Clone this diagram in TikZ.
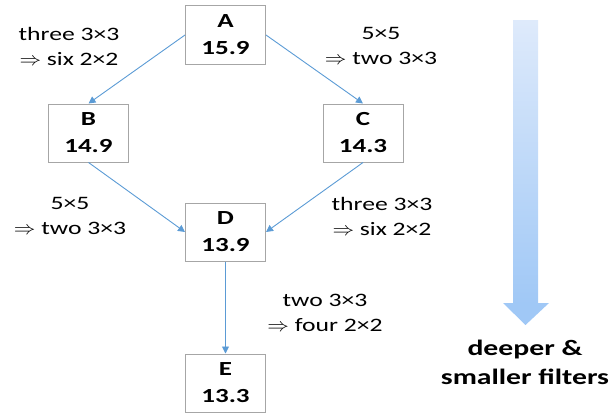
\documentclass[tikz,border=0pt]{standalone}
\usepackage{fontspec}
\setmainfont{Carlito}[FakeStretch=1.35]
\usetikzlibrary{arrows.meta}

\definecolor{edgeblue}{RGB}{91,155,213}
\definecolor{arrlight}{RGB}{222,234,251}
\definecolor{arrdark}{RGB}{160,200,246}

\newcommand{\impl}{\scalebox{1.25}[1.1]{$\Rightarrow$}}

\begin{document}
\begin{tikzpicture}[x=1pt, y=-1pt,
  every node/.style = {align=center, font=\fontsize{19}{25}\selectfont},
  netbox/.style = {draw=black!35, line width=1pt, minimum width=80pt,
    minimum height=58pt, font=\fontsize{20}{27}\selectfont\bfseries},
  link/.style = {draw=edgeblue, line width=0.9pt, -{Triangle[length=7pt, width=7pt]}}]
  \useasboundingbox (0,0) rectangle (609,412);

  % the five nets
  \node[netbox] (A) at (225.5,35)  {A\\15.9};
  \node[netbox] (B) at (88.5,133)  {B\\14.9};
  \node[netbox] (C) at (363,133)   {C\\14.3};
  \node[netbox] (D) at (225.5,232) {D\\13.9};
  \node[netbox] (E) at (225.5,383) {E\\13.3};

  % connections
  \draw[link] (A.west) -- (B.north);
  \draw[link] (A.east) -- (C.north);
  \draw[link] (B.south) -- (D.west);
  \draw[link] (C.south) -- (D.east);
  \draw[link] (D.south) -- (E.north);

  % what changes along each step
  \node (ab) at (69,46)  {three 3×3\\\impl{} six 2×2};
  \node (ac) at (381,46) {5×5\\\impl{} two 3×3};
  \node (bd) at (70,216) {5×5\\\impl{} two 3×3};
  \node (cd) at (382,216) {three 3×3\\\impl{} six 2×2};
  \node (de) at (325,313) {two 3×3\\\impl{} four 2×2};

  % big arrow on the right
  \shade[top color=arrlight, bottom color=arrdark]
    (513,21) rectangle (538,304);
  \fill[arrdark] (503,303) -- (549,303) -- (525.5,325) -- cycle;
  \node[font=\fontsize{22}{29}\selectfont\bfseries] (lbl) at (525,362)
    {deeper \&\\smaller filters};
\end{tikzpicture}
\end{document}
